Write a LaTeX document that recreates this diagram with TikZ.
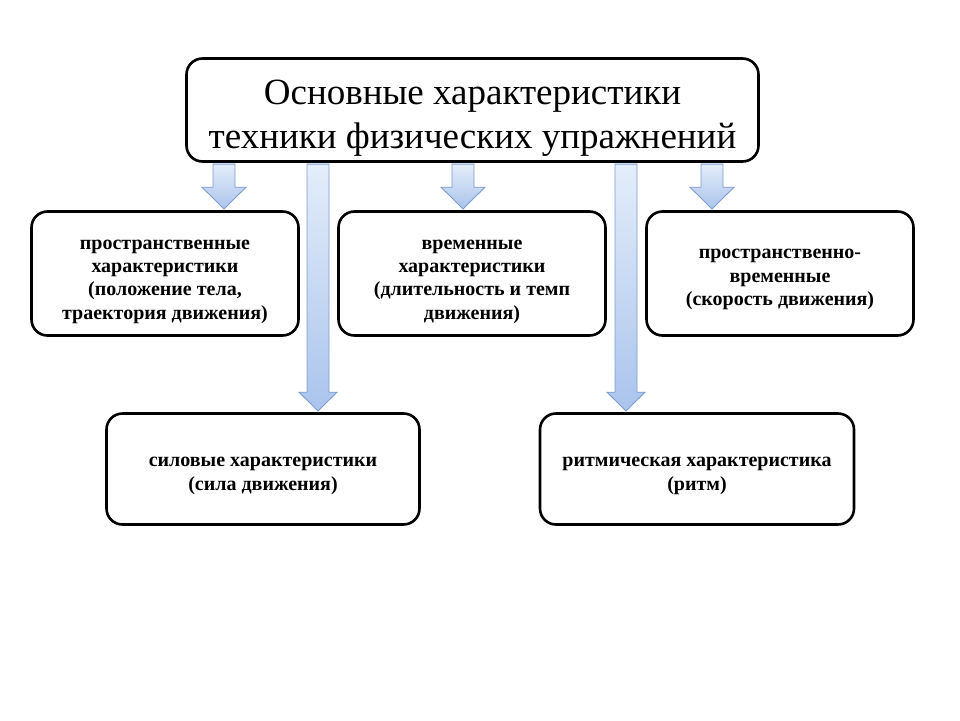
\documentclass[tikz,border=0pt]{standalone}
\usepackage{fontspec}
\setmainfont{Liberation Serif}
\usetikzlibrary{calc}

\definecolor{arrowline}{RGB}{125,155,205}
\definecolor{arrowtop}{RGB}{228,237,250}
\definecolor{arrowbot}{RGB}{170,196,236}

\tikzset{
	box/.style={draw,line width=2.6pt,rounded corners=16pt,fill=white,inner sep=0pt},
	txt/.style={align=center,inner sep=0pt,font=\bfseries\fontsize{20}{23.3}\selectfont},
	titletxt/.style={align=center,inner sep=0pt,font=\fontsize{37}{44}\selectfont},
	barrow/.style={draw=arrowline,line width=0.9pt,top color=arrowtop,bottom color=arrowbot},
}

% block arrow: x, from node, to node, head half width, head length
\newcommand{\blockarrow}[5]{%
	\path[barrow] let \p1=(#1,0 |- #2.south), \p2=(#1,0 |- #3.north) in
		(\x1-11pt,\y1-1.3pt) -- (\x1-11pt,\y2+#5) -- (\x1-#4,\y2+#5) -- (\x2,\y2+1.3pt)
		-- (\x1+#4,\y2+#5) -- (\x1+11pt,\y2+#5) -- (\x1+11pt,\y1-1.3pt) -- cycle;
}

\begin{document}
\begin{tikzpicture}[x=1pt,y=-1pt]
	\useasboundingbox (0,0) rectangle (960,720);

	%BOXES
	\node[box,minimum width=572,minimum height=103] (main) at (472.5,110) {};
	\node[box,minimum width=267,minimum height=124] (space) at (165,273.5) {};
	\node[box,minimum width=267,minimum height=124] (time) at (472,273.5) {};
	\node[box,minimum width=267,minimum height=124] (spacetime) at (780,273.5) {};
	\node[box,minimum width=313,minimum height=111] (force) at (263,469) {};
	\node[box,minimum width=314,minimum height=111] (rhythm) at (697,469) {};

	%TEXTS
	\node[titletxt] (main-t) at ($(main)+(0,8)$) {Основные характеристики\\техники физических упражнений};
	\node[txt] (space-t) at ($(space)+(0,8)$) {пространственные\\характеристики\\(положение тела,\\траектория движения)};
	\node[txt] (time-t) at ($(time)+(0,8)$) {временные\\характеристики\\(длительность и темп\\движения)};
	\node[txt] (spacetime-t) at ($(spacetime)+(0,6)$) {пространственно-\\временные\\(скорость движения)};
	\node[txt] (force-t) at ($(force)+(0,7)$) {силовые характеристики\\(сила движения)};
	\node[txt] (rhythm-t) at ($(rhythm)+(0,7)$) {ритмическая характеристика\\(ритм)};

	%ARROWS
	\foreach \ax/\b in {224/space,463/time,712/spacetime}{
		\blockarrow{\ax}{main}{\b}{22pt}{23pt} %short
	}
	\foreach \ax/\b in {318/force,626/rhythm}{
		\blockarrow{\ax}{main}{\b}{19pt}{20pt} %long
	}
\end{tikzpicture}
\end{document}
